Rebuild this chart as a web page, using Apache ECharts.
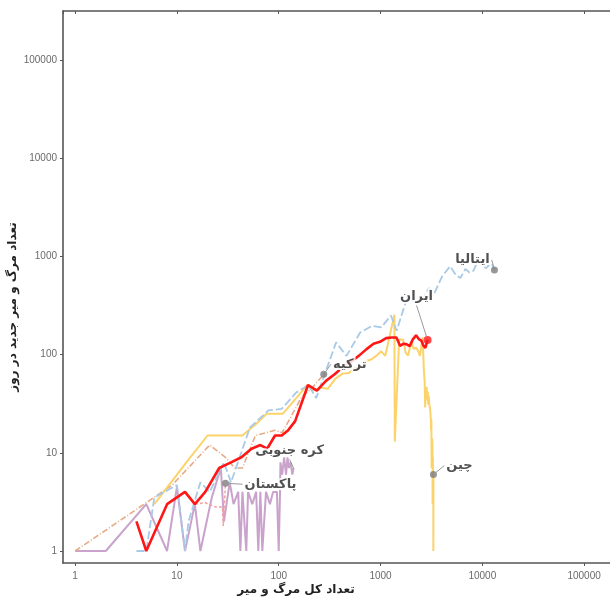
<!DOCTYPE html>
<html>
<head>
<meta charset="utf-8">
<script src="https://cdn.jsdelivr.net/npm/echarts@6/dist/echarts.min.js"></script>
<style>
html, body { margin: 0; padding: 0; background: #fff; }
#chart { width: 610px; height: 598px; }
</style>
</head>
<body>
<div id="chart"></div>
<script>
// [کل مرگ و میر, مرگ و میر جدید در روز]
var italy = [[4,1],[5,1],[6,3.5],[10,4.7],[12,1],[13,2],[17,5],[21,4],[29,8],[34,5],[52,18],[79,27],[107,28],[148,41],[197,49],[233,36],[366,133],[463,97],[631,168],[827,196],[1016,189],[1266,250],[1441,175],[1809,368],[2158,349],[2503,345],[2978,475],[3405,427],[4032,627],[4825,793],[5476,651],[6077,601],[6820,743],[7503,683],[8165,712],[9134,919],[10023,889],[10779,756],[11591,812],[12428,837],[13155,727]];
var iran = [[4,2],[5,1],[8,3],[12,4],[15,3],[19,4],[26,7],[34,8],[43,9],[54,11],[66,12],[77,11],[92,15],[107,15],[124,17],[145,21],[194,49],[237,43],[291,54],[354,63],[429,75],[514,85],[611,97],[724,113],[853,129],[988,135],[1135,147],[1284,149],[1433,149],[1556,123],[1685,129],[1812,127],[1934,122],[2077,143],[2234,157],[2378,144],[2517,139],[2640,123],[2757,117],[2898,141]];
var china = [[6,3],[13,8.5],[20,15],[44,15],[61,20],[76,25],[110,25],[162,40],[190,49],[213,43],[259,46],[304,45],[361,57],[425,64],[490,65],[563,73],[636,73],[722,86],[811,89],[908,97],[1016,108],[1113,97],[1368,254],[1381,13],[1524,143],[1666,142],[1770,104],[1868,98],[2004,136],[2118,114],[2236,118],[2345,109],[2442,97],[2592,150],[2663,71],[2715,52],[2744,29],[2788,44],[2835,47],[2870,35],[2912,42],[2943,31],[2981,38],[3012,31],[3042,30],[3070,28],[3097,27],[3119,22],[3136,17],[3158,22],[3169,11],[3176,7],[3189,13],[3199,10],[3213,14],[3226,13],[3237,11],[3245,8],[3248,3],[3255,7],[3261,6],[3270,9],[3277,7],[3281,4],[3287,6],[3292,5],[3295,3],[3298,3],[3303,5],[3305,1],[3309,6]];
var turkey = [[1,1],[9,4.7],[21,12],[30,9],[37,7],[44,7],[59,15],[75,16],[92,17],[108,16],[131,23],[168,37],[214,46],[277,63]];
var korea = [[1,1],[2,1],[5,3],[8,1],[10,4.5],[12,1],[15,3],[17,1],[22,3.5],[27,7],[29,2],[33,5],[36,3],[40,4],[42,1],[44,4],[48,1],[50,4],[55,3],[60,4],[63,1],[66,4],[69,1],[75,4],[82,3],[88,4],[96,4],[100,1],[103,4],[104,8],[108,6],[113,9],[118,6],[122,9],[126,7],[131,8],[136,6],[140,7]];
var pakistan = [[15,3],[19,3.1],[24,2.8],[28,2.8],[28.5,1.8],[29.5,3.5],[30,4.9]];

var countryNames = ['ایتالیا', 'ایران', 'ترکیه', 'کره جنوبی', 'پاکستان', 'چین'];
var xTitle = 'تعداد کل مرگ و میر';
var yTitle = 'تعداد مرگ و میر جدید در روز';

function last(arr) { return arr[arr.length - 1]; }

var endPoints = [last(italy), last(iran), last(turkey), last(korea), last(pakistan), last(china)];
// جابجایی برچسب ها نسبت به نقطه انتهایی
var labelOffsets = [[-22, -10], [-11, -43], [26, -10], [-4, -17], [45, 1], [26, -9]];

function lineSeries(name, data, color, width, dash, z) {
	return {
		name: name,
		type: 'line',
		data: data,
		symbol: 'none',
		z: z,
		lineStyle: { color: color, width: width, type: dash },
		silent: true
	};
}

var chart = echarts.init(document.getElementById('chart'), null, { renderer: 'canvas' });

var axisLabelStyle = { color: '#6a6a6a', fontSize: 10, fontFamily: 'Liberation Sans' };
var axisLineStyle = { color: '#555', width: 1.6 };

var option = {
	animation: false,
	backgroundColor: '#fff',
	grid: { left: 63, top: 11, width: 560, height: 552, containLabel: false, outerBoundsMode: 'none' },
	xAxis: [{
		type: 'log',
		logBase: 10,
		min: 0.76,
		max: 241000,
		axisLine: { show: true, lineStyle: axisLineStyle },
		axisTick: { show: true, length: 3, lineStyle: { color: '#555' } },
		axisLabel: Object.assign({ margin: 8, showMinLabel: false, showMaxLabel: false,
			formatter: function(v) { return String(Math.round(v)); } }, axisLabelStyle),
		splitLine: { show: false }
	}, {
		type: 'log',
		logBase: 10,
		position: 'top',
		min: 0.76,
		max: 241000,
		axisLine: { show: true, lineStyle: axisLineStyle },
		axisTick: { show: true, inside: true, length: 3, lineStyle: { color: '#555' } },
		axisLabel: { show: false },
		splitLine: { show: false }
	}],
	yAxis: {
		type: 'log',
		logBase: 10,
		min: 0.755,
		max: 315000,
		axisLine: { show: true, lineStyle: axisLineStyle },
		axisTick: { show: true, length: 3, lineStyle: { color: '#555' } },
		axisLabel: Object.assign({ margin: 6, showMinLabel: false, showMaxLabel: false,
			formatter: function(v) { return String(Math.round(v)); } }, axisLabelStyle),
		splitLine: { show: false }
	},
	graphic: [{
		type: 'text',
		x: 296,
		y: 590,
		style: { text: xTitle, font: 'bold 12px "DejaVu Sans"', fill: '#222', align: 'center', verticalAlign: 'middle' }
	}, {
		type: 'text',
		x: 13,
		y: 307,
		rotation: Math.PI / 2,
		style: { text: yTitle, font: 'bold 12px "DejaVu Sans"', fill: '#222', align: 'center', verticalAlign: 'middle' }
	}],
	series: [
		lineSeries('کره جنوبی', korea, '#c9a3cb', 2, 'solid', 2),
		lineSeries('پاکستان', pakistan, '#f2a0a0', 1.5, [3, 2], 3),
		lineSeries('ترکیه', turkey, '#e6ab86', 1.6, [6, 2, 1, 2], 4),
		lineSeries('چین', china, '#fbd36a', 2, 'solid', 5),
		lineSeries('ایتالیا', italy, '#a8cae6', 1.8, [8, 3], 6),
		lineSeries('ایران', iran, '#ff1616', 2.6, 'solid', 7),
		{
			type: 'scatter',
			z: 10,
			silent: true,
			data: endPoints.map(function(p, i) {
				return {
					value: p,
					symbolSize: i === 1 ? 8 : (i === 3 ? 1 : 7),
					itemStyle: { color: i === 1 ? '#ff1616' : '#7d7d7d' }
				};
			}),
			label: {
				show: true,
				position: 'inside',
				formatter: function(p) { return countryNames[p.dataIndex]; },
				color: '#262626',
				fontSize: 13,
				fontWeight: 'bold',
				fontFamily: 'DejaVu Sans',
				textBorderColor: '#fff',
				textBorderWidth: 4
			},
			labelLayout: function(params) {
				var o = labelOffsets[params.dataIndex];
				return { dx: o[0], dy: o[1] };
			},
			labelLine: { show: true, lineStyle: { color: '#9a9a9a', width: 1 } }
		}
	]
};

chart.setOption(option);
</script>
</body>
</html>
